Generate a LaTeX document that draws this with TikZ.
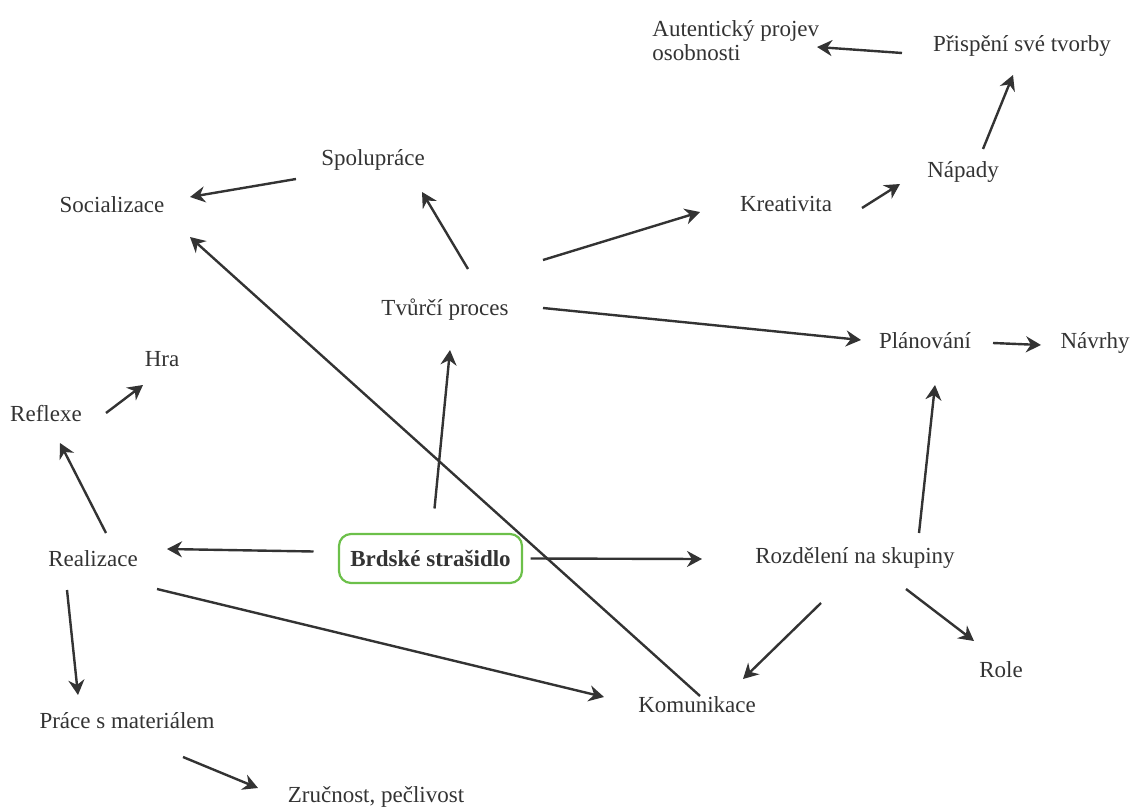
\documentclass[tikz,border=0pt]{standalone}
\usepackage{fontspec}
\setmainfont{Liberation Serif}
\usetikzlibrary{arrows.meta}
\definecolor{ink}{HTML}{333333}
\definecolor{boxgreen}{HTML}{6CC04A}
\begin{document}
\begin{tikzpicture}[x=0.5pt,y=-0.5pt,
  lbl/.style={inner sep=0pt, anchor=base, text=ink, font=\fontsize{11.5}{12}\selectfont},
  arr/.style={draw=ink, line width=1.2pt, -{Stealth[length=7.5pt,width=8pt]}},
  mainbox/.style={draw=boxgreen, line width=1.1pt, rounded corners=6pt, minimum width=91.5pt, minimum height=24.5pt, inner sep=0pt, text=ink, font=\fontsize{11.5}{12}\selectfont\bfseries}]
\useasboundingbox (0,0) rectangle (1133,807);
\node[lbl, anchor=west, align=left] (aut) at (652,41) {Autentický projev\\osobnosti};
\node[lbl] (prisp) at (1022,52) {Přispění své tvorby};
\node[lbl] (napady) at (963,178) {Nápady};
\node[lbl] (kreat) at (786,212) {Kreativita};
\node[lbl] (spol) at (373,166) {Spolupráce};
\node[lbl] (soc) at (112,213) {Socializace};
\node[lbl] (tvur) at (445,315) {Tvůrčí proces};
\node[lbl] (plan) at (925,348) {Plánování};
\node[lbl] (navrhy) at (1095,348) {Návrhy};
\node[lbl] (hra) at (162,366) {Hra};
\node[lbl] (refl) at (46,421) {Reflexe};
\node[lbl] (real) at (93,566) {Realizace};
\node[mainbox] (brd) at (430.5,558.5) {Brdské strašidlo};
\node[lbl] (rozd) at (855,563) {Rozdělení na skupiny};
\node[lbl] (role) at (1001,677) {Role};
\node[lbl] (komu) at (697,712) {Komunikace};
\node[lbl] (prace) at (127,728) {Práce s materiálem};
\node[lbl] (zruc) at (376,802) {Zručnost, pečlivost};

\draw[arr] ([shift={(-120,1)}]prisp.base) -- ([shift={(165,6)}]aut.west);
\draw[arr] ([shift={(20,-29)}]napady.base) -- ([shift={(-9,23)}]prisp.base);
\draw[arr] ([shift={(76,-4)}]kreat.base) -- ([shift={(-63,6)}]napady.base);
\draw[arr] ([shift={(98,-55)}]tvur.base) -- ([shift={(-86,0)}]kreat.base);
\draw[arr] ([shift={(-77,13)}]spol.base) -- ([shift={(78,-16)}]soc.base);
\draw[arr] ([shift={(23,-46)}]tvur.base) -- ([shift={(49,26)}]spol.base);
\draw[arr] ([shift={(98,-7)}]tvur.base) -- ([shift={(-64,-8)}]plan.base);
\draw[arr] ([shift={(68,-5)}]plan.base) -- ([shift={(-54,-3)}]navrhy.base);
\draw[arr] ([shift={(4,-50)}]brd.center) -- ([shift={(5,35)}]tvur.base);
\draw[arr] ([shift={(60,-8)}]refl.base) -- ([shift={(-19,19)}]hra.base);
\draw[arr] ([shift={(13,-33)}]real.base) -- ([shift={(14,22)}]refl.base);
\draw[arr] ([shift={(-117,-7)}]brd.center) -- ([shift={(74,-17)}]real.base);
\draw[arr] ([shift={(100,0)}]brd.center) -- ([shift={(-153,-4)}]rozd.base);
\draw[arr] ([shift={(64,-30)}]rozd.base) -- ([shift={(10,37)}]plan.base);
\draw[arr] ([shift={(-34,40)}]rozd.base) -- ([shift={(46,-33)}]komu.base);
\draw[arr] ([shift={(51,26)}]rozd.base) -- ([shift={(-27,-36)}]role.base);
\draw[arr] ([shift={(3,-16)}]komu.base) -- ([shift={(78,24)}]soc.base);
\draw[arr] ([shift={(64,23)}]real.base) -- ([shift={(-93,-15)}]komu.base);
\draw[arr] ([shift={(-26,24)}]real.base) -- ([shift={(-49,-33)}]prace.base);
\draw[arr] ([shift={(56,29)}]prace.base) -- ([shift={(-118,-14)}]zruc.base);
\end{tikzpicture}
\end{document}
